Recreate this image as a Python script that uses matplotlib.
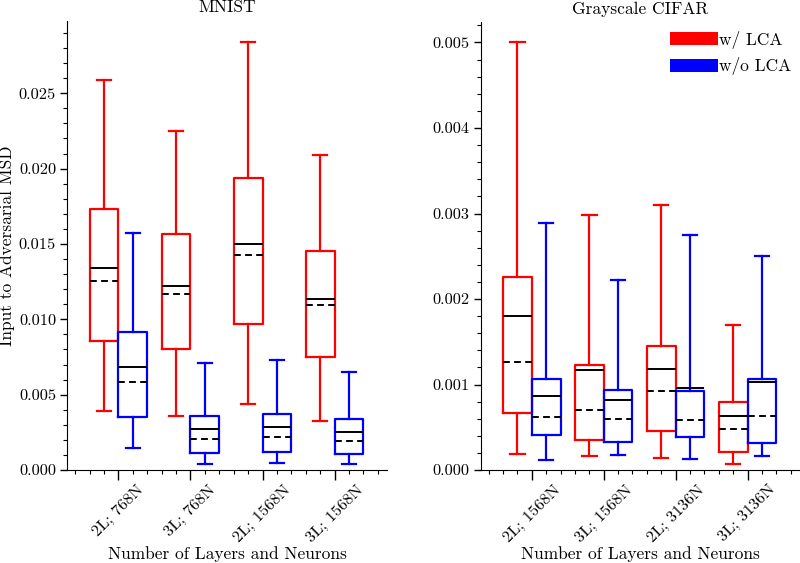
import matplotlib
matplotlib.use('Agg')
import matplotlib.pyplot as plt
from matplotlib.patches import Patch
from matplotlib.ticker import MultipleLocator, FormatStrFormatter

plt.rcParams['font.family'] = ['cmr10', 'DejaVu Serif']
plt.rcParams['mathtext.fontset'] = 'cm'
plt.rcParams['axes.unicode_minus'] = False

# categorias
mnist_labels = ['2L; 768N', '3L; 768N', '2L; 1568N', '3L; 1568N']
cifar_labels = ['2L; 1568N', '3L; 1568N', '2L; 3136N', '3L; 3136N']

# MNIST com LCA
mnist_lca_whislo = [0.00394, 0.00361, 0.00436, 0.00327]
mnist_lca_q1 = [0.00857, 0.00803, 0.00972, 0.00752]
mnist_lca_med = [0.01343, 0.01220, 0.01503, 0.01135]
mnist_lca_mean = [0.01257, 0.01169, 0.01430, 0.01096]
mnist_lca_q3 = [0.01731, 0.01567, 0.01937, 0.01454]
mnist_lca_whishi = [0.02590, 0.02246, 0.02840, 0.02092]

# MNIST sem LCA
mnist_no_whislo = [0.00148, 0.00042, 0.00046, 0.00042]
mnist_no_q1 = [0.00350, 0.00111, 0.00120, 0.00106]
mnist_no_med = [0.00686, 0.00270, 0.00286, 0.00250]
mnist_no_mean = [0.00584, 0.00206, 0.00219, 0.00193]
mnist_no_q3 = [0.00918, 0.00359, 0.00372, 0.00337]
mnist_no_whishi = [0.01576, 0.00713, 0.00733, 0.00651]

# CIFAR com LCA
cifar_lca_whislo = [0.000191, 0.000168, 0.000137, 0.000074]
cifar_lca_q1 = [0.000663, 0.000351, 0.000452, 0.000207]
cifar_lca_med = [0.001797, 0.001173, 0.001181, 0.000631]
cifar_lca_mean = [0.001266, 0.000705, 0.000927, 0.000483]
cifar_lca_q3 = [0.002256, 0.001228, 0.001450, 0.000799]
cifar_lca_whishi = [0.005000, 0.002981, 0.003098, 0.001691]

# CIFAR sem LCA
cifar_no_whislo = [0.000121, 0.000171, 0.000129, 0.000160]
cifar_no_q1 = [0.000409, 0.000331, 0.000386, 0.000316]
cifar_no_med = [0.000861, 0.000814, 0.000955, 0.001029]
cifar_no_mean = [0.000623, 0.000596, 0.000588, 0.000628]
cifar_no_q3 = [0.001060, 0.000939, 0.000927, 0.001064]
cifar_no_whishi = [0.002884, 0.002221, 0.002747, 0.002502]


def make_stats(lo, q1, med, mean, q3, hi):
    return [dict(whislo=a, q1=b, med=c, mean=d, q3=e, whishi=f, fliers=[])
            for a, b, c, d, e, f in zip(lo, q1, med, mean, q3, hi)]


def draw_boxes(ax, stats, pos, cor):
    ax.bxp(stats, positions=pos, widths=0.4, showmeans=True, meanline=True,
           showfliers=False, manage_ticks=False,
           boxprops=dict(color=cor, linewidth=1.6),
           whiskerprops=dict(color=cor, linewidth=1.6),
           capprops=dict(color=cor, linewidth=1.6),
           medianprops=dict(color='black', linewidth=1.4),
           meanprops=dict(color='black', linewidth=1.4, linestyle=(0, (3.5, 2.2))))


fig = plt.figure(figsize=(8, 5.63), dpi=100)
ax1 = fig.add_axes([0.084, 0.165, 0.400, 0.798])
ax2 = fig.add_axes([0.601, 0.165, 0.399, 0.796])

x = list(range(4))
xl = [i - 0.2 for i in x]
xr = [i + 0.2 for i in x]

draw_boxes(ax1, make_stats(mnist_lca_whislo, mnist_lca_q1, mnist_lca_med,
                           mnist_lca_mean, mnist_lca_q3, mnist_lca_whishi), xl, 'red')
draw_boxes(ax1, make_stats(mnist_no_whislo, mnist_no_q1, mnist_no_med,
                           mnist_no_mean, mnist_no_q3, mnist_no_whishi), xr, 'blue')
draw_boxes(ax2, make_stats(cifar_lca_whislo, cifar_lca_q1, cifar_lca_med,
                           cifar_lca_mean, cifar_lca_q3, cifar_lca_whishi), xl, 'red')
draw_boxes(ax2, make_stats(cifar_no_whislo, cifar_no_q1, cifar_no_med,
                           cifar_no_mean, cifar_no_q3, cifar_no_whishi), xr, 'blue')

fs = 12.5
tfs = 11.8
for ax, labels, titulo, ymax, ymaj, ymin in [
        (ax1, mnist_labels, 'MNIST', 0.0298, 0.005, 0.001),
        (ax2, cifar_labels, 'Grayscale CIFAR', 0.00524, 0.001, 0.0002)]:
    ax.set_xlim(-0.71, 3.73)
    ax.set_ylim(0, ymax)
    ax.set_xticks(x)
    ax.set_xticklabels(labels, rotation=45, fontsize=tfs)
    ax.xaxis.set_minor_locator(MultipleLocator(0.2))
    ax.yaxis.set_major_locator(MultipleLocator(ymaj))
    ax.yaxis.set_minor_locator(MultipleLocator(ymin))
    ax.yaxis.set_major_formatter(FormatStrFormatter('%.3f'))
    ax.tick_params(axis='y', labelsize=tfs, pad=3)
    ax.tick_params(which='major', length=5, width=1)
    ax.tick_params(which='minor', length=3, width=0.8)
    ax.tick_params(axis='x', which='major', length=7, pad=2)
    ax.spines['top'].set_visible(False)
    ax.spines['right'].set_visible(False)
    ax.set_title(titulo, fontsize=fs)
    ax.set_xlabel('Number of Layers and Neurons', fontsize=fs, labelpad=1)

ax1.set_ylabel('Input to Adversarial MSD', fontsize=fs, labelpad=3)

handles = [Patch(facecolor='red', edgecolor='none', label='w/ LCA'),
           Patch(facecolor='blue', edgecolor='none', label='w/o LCA')]
ax2.legend(handles=handles, loc='upper right', frameon=False, fontsize=fs,
           handlelength=2.8, handleheight=0.75, handletextpad=0.05,
           borderaxespad=0.1, labelspacing=0.5)

plt.savefig('out.png', dpi=100)
